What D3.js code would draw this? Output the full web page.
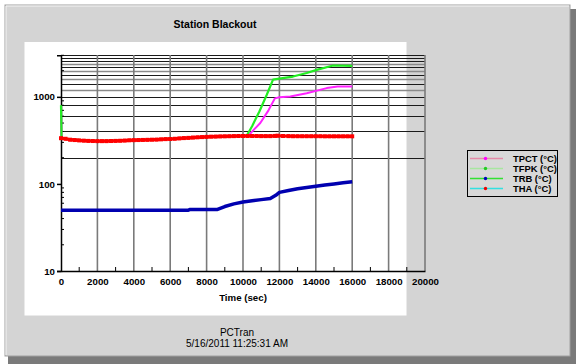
<!DOCTYPE html>
<html><head><meta charset="utf-8">
<script src="https://cdn.jsdelivr.net/npm/d3@7"></script>
<style>html,body{margin:0;padding:0;background:#fff;}svg{display:block;font-family:"Liberation Sans",Arial,sans-serif;}</style>
</head><body>
<script>
// ---- data ----
const title = "Station Blackout";
const seriesNames = ["TPCT (°C)", "TFPK (°C)", "TRB (°C)", "THA (°C)"];
const xTicks = [0,2000,4000,6000,8000,10000,12000,14000,16000,18000,20000];
const yTickLabels = [10,100,1000];
const hGrid = [200,400,600,800,1000,1200,1400,1600,1800,2000,2200,2400,2600,2800,3000];

const thaTime  = [0,250,500,750,1000,1250,1500,1750,2000,2250,2500,2750,3000,3250,3500,3750,4000,4250,4500,4750,5000,5250,5500,5750,6000,6250,6500,6750,7000,7250,7500,7750,8000,8250,8500,8750,9000,9250,9500,9750,10000,10250,10500,10750,11000,11250,11500,11750,11900,12200,12500,12750,13000,13250,13500,13750,14000,14250,14500,14750,15000,15250,15500,15750,16000];
const thaValue = [335,330,322,319,316,314,312,311,310,310,310,311,312,313,315,317,318,319,320,321,322,323,325,327,328,330,333,336,338,341,343,345,347,349,350,351,352,353,354,355,355,355,355,355,354,354,354,356,358,355,354,353,353,353,353,353,353,353,352,352,352,352,352,352,352];

const trbTime  = [0,1000,2000,3000,4000,5000,6000,7000,7100,8000,8600,9000,9500,10000,10500,11000,11500,11800,12000,12500,13000,13500,14000,14500,15000,15500,16000];
const trbValue = [50,50,50,50,50,50,50,50,51,51,51,55,59,62,64,66,68,74,80,84,88,91,94,97,100,103,106];

const tpctTime  = [0,30,2000,5000,8000,10000,10300,10600,10950,11400,11750,12000,12600,13500,14600,15200,16000];
const tpctValue = [620,330,310,322,347,355,360,420,500,700,960,990,1010,1100,1260,1315,1315];

const tfpkTime  = [0,30,2000,5000,8000,10000,10200,10500,10900,11300,11650,12000,12750,13500,14050,14950,16000];
const tfpkValue = [800,330,310,322,347,355,358,460,680,1050,1580,1620,1710,1880,2040,2290,2270];

// ---- layout ----
const W = 576, H = 364;
const svg = d3.select("body").append("svg").attr("width", W).attr("height", H);

// window frame
svg.append("rect").attr("x",0).attr("y",0).attr("width",W).attr("height",H).attr("fill","#ffffff");
svg.append("rect").attr("x",8).attr("y",9).attr("width",568).attr("height",355).attr("fill","#7a7a7a");
svg.append("rect").attr("x",5).attr("y",5).attr("width",565).attr("height",351).attr("fill","#d4d4d4")
  .attr("stroke","#a0a0a0").attr("stroke-width",1);
svg.append("line").attr("x1",6).attr("x2",6).attr("y1",6).attr("y2",355).attr("stroke","#f4f4f4");
svg.append("line").attr("x1",6).attr("x2",569).attr("y1",6).attr("y2",6).attr("stroke","#f4f4f4");

// white chart panel
svg.append("rect").attr("x",24.5).attr("y",42).attr("width",382).attr("height",273.5).attr("fill","#ffffff");

// title
svg.append("text").attr("x",215).attr("y",28).attr("text-anchor","middle")
  .attr("font-size","10.5px").attr("font-weight","bold").attr("fill","#000").text(title);

const x = d3.scaleLinear().domain([0,20000]).range([61,425]);
const y = d3.scaleLog().domain([10,3000]).range([271,55.3]);

// gridlines
const grayLines = new Set([1200,1600,2000,2400]);
svg.append("g").selectAll("line").data(hGrid).join("line")
  .attr("x1",61).attr("x2",425)
  .attr("y1",d=>Math.round(y(d))+0.5).attr("y2",d=>Math.round(y(d))+0.5)
  .attr("stroke",d=>grayLines.has(d)?"#8a8a8a":"#1a1a1a")
  .attr("stroke-width",d=>grayLines.has(d)?1.6:1);
svg.append("g").selectAll("line").data(xTicks.slice(1)).join("line")
  .attr("x1",d=>x(d)).attr("x2",d=>x(d)).attr("y1",55).attr("y2",271)
  .attr("stroke","#7a7a7a").attr("stroke-width",1.6);

// axes
const xAxis = d3.axisBottom(x).tickValues(xTicks).tickSize(0).tickPadding(7).tickFormat(d3.format("d"));
const gx = svg.append("g").attr("transform","translate(0,271)").call(xAxis);
gx.select(".domain").attr("stroke","#000").attr("stroke-width",1.5);
gx.selectAll("text").attr("font-size","9.7px").attr("font-weight","bold").attr("fill","#000")
  .attr("font-family","'Liberation Sans',Arial,sans-serif");
// minor x ticks
const xMinor = d3.range(1000,20000,2000);
svg.append("g").selectAll("line").data(xMinor).join("line")
  .attr("x1",d=>x(d)).attr("x2",d=>x(d)).attr("y1",271).attr("y2",267)
  .attr("stroke","#000").attr("stroke-width",1);

const yAxis = d3.axisLeft(y).tickValues(yTickLabels).tickSize(4).tickPadding(2).tickFormat(d3.format("d"));
const gy = svg.append("g").attr("transform","translate(61,0)").call(yAxis);
gy.select(".domain").attr("stroke","#000").attr("stroke-width",1.5);
gy.selectAll("line").attr("stroke","#000").attr("stroke-width",1.5);
gy.selectAll("text").attr("font-size","9.7px").attr("font-weight","bold").attr("fill","#000")
  .attr("font-family","'Liberation Sans',Arial,sans-serif");
// minor y ticks
const yMinor = [20,30,40,50,60,70,80,90,200,300,400,500,600,700,800,900,2000,3000];
svg.append("g").selectAll("line").data(yMinor).join("line")
  .attr("x1",61).attr("x2",64).attr("y1",d=>y(d)).attr("y2",d=>y(d))
  .attr("stroke","#000").attr("stroke-width",1);

// x label
svg.append("text").attr("x",243).attr("y",301).attr("text-anchor","middle")
  .attr("font-size","9.7px").attr("font-weight","bold").text("Time (sec)");

// series
const line = d3.line().x(d=>x(d[0])).y(d=>y(d[1]));
const zip = (t,v)=>t.map((d,i)=>[d,v[i]]);

const series = [
  {t:tpctTime, v:tpctValue, color:"#ff22ff", w:2, dots:false},
  {t:tfpkTime, v:tfpkValue, color:"#22ee22", w:2.2, dots:false},
  {t:trbTime,  v:trbValue,  color:"#0000b0", w:3.5, dots:false},
  {t:thaTime,  v:thaValue,  color:"#ff0000", w:3.2, dots:true}
];
series.forEach(s=>{
  const data = zip(s.t,s.v);
  svg.append("path").datum(data).attr("d",line).attr("fill","none")
    .attr("stroke",s.color).attr("stroke-width",s.w).attr("stroke-linejoin","round");
  if (s.dots) {
    svg.append("g").selectAll("rect").data(data).join("rect")
      .attr("x",d=>x(d[0])-2).attr("y",d=>y(d[1])-2).attr("width",4).attr("height",4).attr("fill",s.color);
  }
});

// legend
const legX = 467, legY = 150;
svg.append("rect").attr("x",legX+0.5).attr("y",legY+0.5).attr("width",90).attr("height",46)
  .attr("fill","#d8d8d8").attr("stroke","#000").attr("stroke-width",1);
const legLine = ["#e58aa8","#a8e6a0","#33e033","#33e0e0"];
const legDot  = ["#ff00ff","#22cc22","#0000c0","#ee0000"];
seriesNames.forEach((n,i)=>{
  const yy = legY + 8.5 + i*10;
  svg.append("line").attr("x1",legX+3).attr("x2",legX+36).attr("y1",yy).attr("y2",yy)
    .attr("stroke",legLine[i]).attr("stroke-width",1.5);
  svg.append("circle").attr("cx",legX+18.5).attr("cy",yy).attr("r",1.7).attr("fill",legDot[i]);
  svg.append("text").attr("x",legX+46).attr("y",yy+3.5).attr("font-size","9.4px")
    .attr("font-weight","bold").text(n);
});

// footer
svg.append("text").attr("x",237).attr("y",335.5).attr("text-anchor","middle").attr("font-size","10px").text("PCTran");
svg.append("text").attr("x",237).attr("y",346.5).attr("text-anchor","middle").attr("font-size","10px").text("5/16/2011 11:25:31 AM");
</script>
</body></html>
